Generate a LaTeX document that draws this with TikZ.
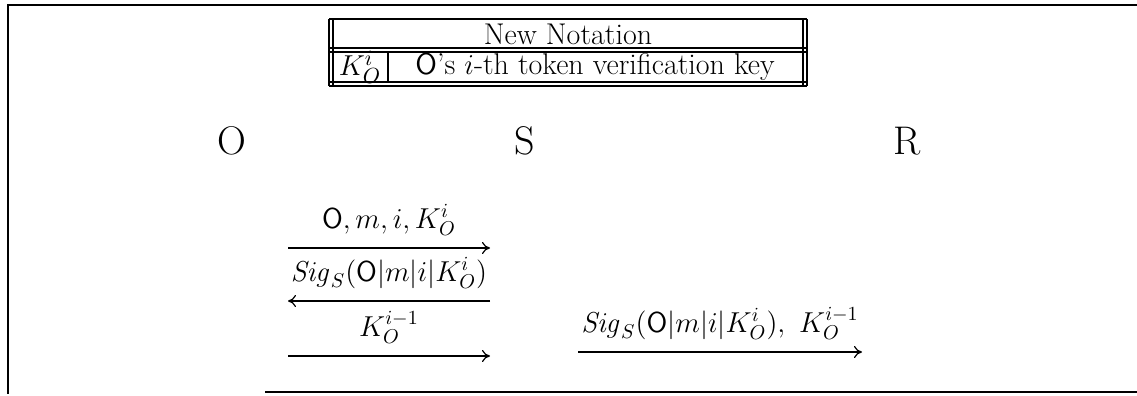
\documentclass[tikz,border=0pt]{standalone}
\usepackage{tikz}
\usetikzlibrary{arrows.meta, positioning, calc}

\begin{document}
\begin{tikzpicture}[
  x=0.5pt, y=-0.5pt,
  party/.style ={font=\fontsize{20}{24}\selectfont, inner sep=0pt},
  cell/.style  ={font=\fontsize{15}{18}\selectfont, inner sep=0pt},
  msg/.style   ={font=\fontsize{14}{17}\selectfont, above, inner sep=0pt, yshift=6pt},
  flow/.style  ={-{To[length=4pt, width=6pt]}, line width=0.6pt},
  rule/.style  ={line width=0.6pt},
]
\useasboundingbox (0,0) rectangle (1137,396);

% ----- Frame -----
\draw[rule] (1137,5) -- (8,5) -- (8,394);
\draw[rule] (265,392) -- (1137,392);

% ----- Notation table -----
\draw[rule] (329,19) -- (807,19);
\draw[rule] (329,48) -- (807,48);
\draw[rule] (329,52) -- (807,52);
\draw[rule] (329,82) -- (807,82);
\draw[rule] (329,86) -- (807,86);
\draw[rule] (329,19) -- (329,86);
\draw[rule] (333,19) -- (333,86);
\draw[rule] (803,19) -- (803,86);
\draw[rule] (807,19) -- (807,86);
\draw[rule] (388,52) -- (388,82);

\node[cell] (TITLE)   at (568,34) {New Notation};
\node[cell] (KEYSYM)  at (360,67) {$K_{O}^{i}$};
\node[cell] (KEYDESC) at (595,67) {\textsf{O}'s $i$-th token verification key};

% ----- Parties -----
\node[party] (O) at (232,141) {O};
\node[party] (S) at (525,141) {S};
\node[party] (R) at (907,141) {R};

% ----- Message ends -----
\coordinate (O1) at (288,248);  \coordinate (S1) at (490,248);
\coordinate (O2) at (288,301);  \coordinate (S2) at (490,301);
\coordinate (O3) at (288,356);  \coordinate (S3) at (490,356);
\coordinate (S4) at (578,352);  \coordinate (R4) at (862,352);

% ----- Messages -----
\draw[flow] (O1) -- node[msg] (M1) {$\mathsf{O}, m, i, K_{O}^{i}$} (S1);
\draw[flow] (S2) -- node[msg] (M2) {$\mathit{Sig}_{S}(\mathsf{O}|m|i|K_{O}^{i})$} (O2);
\draw[flow] (O3) -- node[msg] (M3) {$K_{O}^{i-1}$} (S3);
\draw[flow] (S4) -- node[msg] (M4)
  {$\mathit{Sig}_{S}(\mathsf{O}|m|i|K_{O}^{i}),\ K_{O}^{i-1}$} (R4);

\end{tikzpicture}
\end{document}
